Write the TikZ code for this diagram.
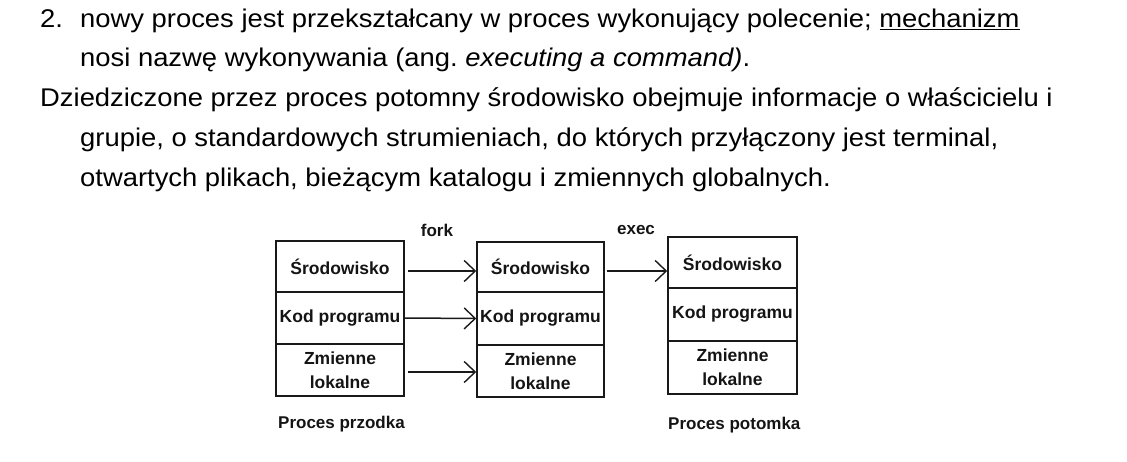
\documentclass[tikz,border=0pt]{standalone}
\usepackage{fontspec}
\setmainfont{Liberation Sans}
\newfontfamily\bodyfont[FakeStretch=1.07]{Liberation Sans}
\usetikzlibrary{arrows.meta}
\begin{document}
\begin{tikzpicture}[x=1pt,y=-1pt,
  body/.style={font=\bodyfont\fontsize{25.6}{30}\selectfont, anchor=base west, inner sep=0pt, text=black},
  cell/.style={draw=black!90, line width=1.6pt, inner sep=0pt, align=center,
    minimum width=#1, font=\bfseries\fontsize{17.5}{24}\selectfont, text=black!92},
  lbl/.style={inner sep=0pt, font=\bfseries\fontsize{17}{20}\selectfont, text=black!92},
  flow/.style={line width=1.5pt, draw=black!90, -{Straight Barb[length=11pt,width=21pt,line width=1.4pt]}}]
\useasboundingbox (0,0) rectangle (1127,462);

% explanatory text above the figure
\node[body] (n2) at (40,28) {2.};
\node[body] (t1) at (80,28) {nowy proces jest przekształcany w proces wykonujący polecenie; \underline{mechanizm}};
\node[body] (t2) at (80,67) {nosi nazwę wykonywania (ang.\ \textit{executing a command)}.};
\node[body] (t3) at (40,107) {Dziedziczone przez proces potomny środowisko obejmuje informacje o właścicielu i};
\node[body] (t4) at (80,147) {grupie, o standardowych strumieniach, do których przyłączony jest terminal,};
\node[body] (t5) at (80,187) {otwartych plikach, bieżącym katalogu i zmiennych globalnych.};

% parent process
\node[cell=128pt, minimum height=51pt] (a1) at (340,266.5) {Środowisko};
\node[cell=128pt, minimum height=52pt] (a2) at (340,318) {Kod programu};
\node[cell=128pt, minimum height=52pt] (a3) at (340,370) {Zmienne\\lokalne};

% process after fork
\node[cell=127pt, minimum height=50pt] (b1) at (540.5,267) {Środowisko};
\node[cell=127pt, minimum height=53pt] (b2) at (540.5,318.5) {Kod programu};
\node[cell=127pt, minimum height=52pt] (b3) at (540.5,371) {Zmienne\\lokalne};

% process after exec
\node[cell=129pt, minimum height=51pt] (c1) at (732.5,262.5) {Środowisko};
\node[cell=129pt, minimum height=53pt] (c2) at (732.5,314.5) {Kod programu};
\node[cell=129pt, minimum height=53pt] (c3) at (732.5,367.5) {Zmienne\\lokalne};

% labels
\node[lbl] (fork) at (437,230) {fork};
\node[lbl] (exec) at (636,230) {exec};
\node[lbl, anchor=west] (pp) at (278,424) {Proces przodka};
\node[lbl, anchor=west] (pc) at (668,425) {Proces potomka};

% copying arrows
\draw[flow] ([xshift=3pt,yshift=-4.5pt]a1.east) -- ([yshift=-4pt]b1.west);
\draw[flow] (a2.east) -- (b2.west);
\draw[flow] ([xshift=3pt,yshift=-2pt]a3.east) -- ([yshift=-1pt]b3.west);
\draw[flow] ([xshift=2pt,yshift=-4pt]b1.east) -- ([yshift=-8.5pt]c1.west);
\end{tikzpicture}
\end{document}
